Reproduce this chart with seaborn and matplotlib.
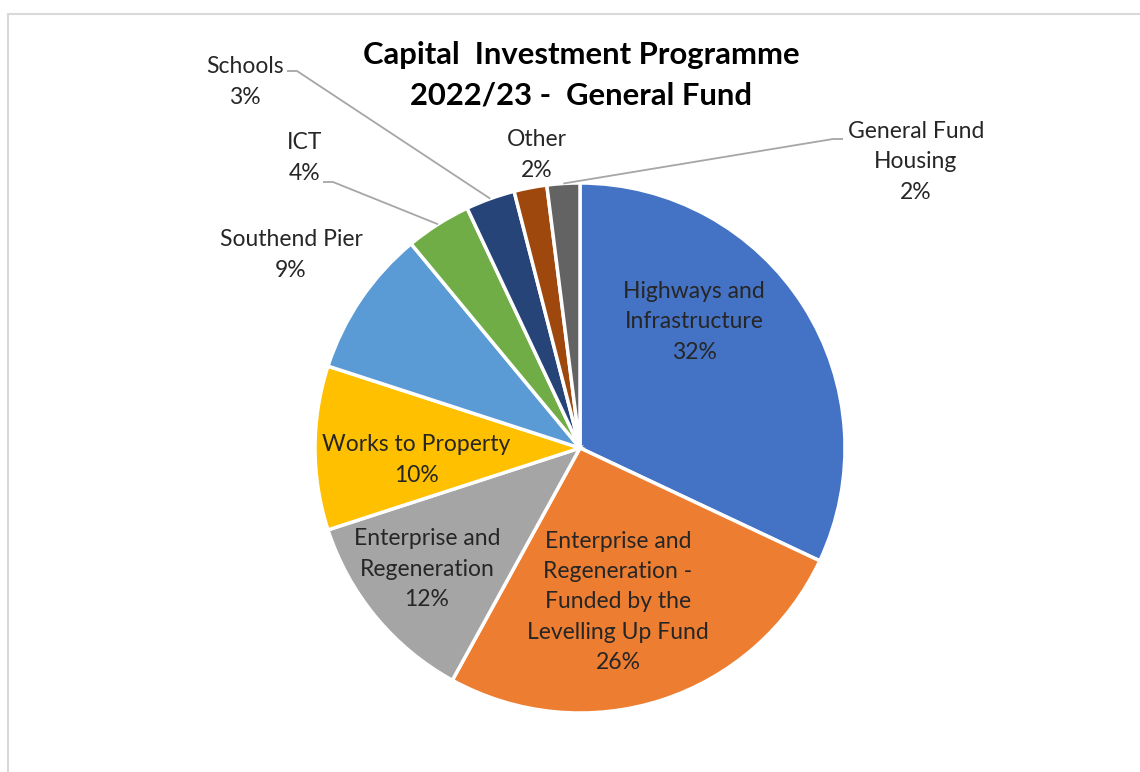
import matplotlib
matplotlib.use("Agg")
import matplotlib.pyplot as plt
import seaborn as sns
import numpy as np
from matplotlib.lines import Line2D

# Programme shares, clockwise from 12 o'clock
categories = [
    "Highways and\nInfrastructure",
    "Enterprise and\nRegeneration -\nFunded by the\nLevelling Up Fund",
    "Enterprise and\nRegeneration",
    "Works to Property",
    "Southend Pier",
    "ICT",
    "Schools",
    "Other",
    "General Fund\nHousing",
]
shares = [32, 26, 12, 10, 9, 4, 3, 2, 2]
colors = ["#4472C4", "#ED7D31", "#A5A5A5", "#FFC000", "#5B9BD5",
          "#70AD47", "#264478", "#9E480E", "#636363"]
title_lines = ["Capital  Investment Programme", "2022/23 -  General Fund"]

sns.set_theme(style="white")
plt.rcParams["font.family"] = ["Lato", "DejaVu Sans"]

W, H = 1140, 772
fig = plt.figure(figsize=(W / 100, H / 100), dpi=100)
ax = fig.add_axes([0, 0, 1, 1])

cx, cy, R = 580, 448, 265

# y axis is inverted, so a counter-clockwise pie appears clockwise on screen
wedges, _ = ax.pie(
    shares, colors=colors, startangle=-90, counterclock=True,
    center=(cx, cy), radius=R, frame=True,
    wedgeprops=dict(edgecolor="white", linewidth=2.5),
)
ax.set_xlim(0, W)
ax.set_ylim(H, 0)
ax.set_aspect("equal")
ax.axis("off")


def edge_point(i, frac=1.0):
    w = wedges[i]
    mid = np.deg2rad((w.theta1 + w.theta2) / 2)
    return cx + frac * R * np.cos(mid), cy + frac * R * np.sin(mid)


fs = 16.5
txt = dict(ha="center", va="center", fontsize=fs, color="#262626",
           linespacing=1.55)

# labels inside the larger slices
inside = {0: (694, 322), 1: (618, 602), 2: (427, 569), 3: (416, 460)}
for i, (x, y) in inside.items():
    ax.text(x, y, f"{categories[i]}\n{shares[i]}%", **txt)

# labels outside the smaller slices
outside = {4: (291, 255), 5: (305, 158), 6: (245, 82), 7: (537, 155),
           8: (916, 162)}
for i, (x, y) in outside.items():
    ax.text(x, y, f"{categories[i]}\n{shares[i]}%", **txt)

# leader lines from outside labels to their slices
lc = "#A6A6A6"
leaders = {6: [(287, 71), (297, 71)], 5: [(323, 182), (333, 182)],
           8: [(843, 139), (833, 139)]}
for i, pts in leaders.items():
    ex, ey = edge_point(i)
    xs = [p[0] for p in pts] + [ex]
    ys = [p[1] for p in pts] + [ey]
    ax.plot(xs, ys, color=lc, lw=1.3, solid_capstyle="butt")

# title
ax.text(581, 55, title_lines[0], ha="center", va="center", fontsize=22.3,
        fontweight="bold", color="black")
ax.text(581, 95, title_lines[1], ha="center", va="center", fontsize=22.3,
        fontweight="bold", color="black")

# chart frame
fig.add_artist(Line2D([8 / W, 1], [1 - 14 / H, 1 - 14 / H],
                      transform=fig.transFigure, color="#D9D9D9", lw=1.5))
fig.add_artist(Line2D([8 / W, 8 / W], [0, 1 - 14 / H],
                      transform=fig.transFigure, color="#D9D9D9", lw=1.5))

fig.savefig("out.png", dpi=100, facecolor="white")
